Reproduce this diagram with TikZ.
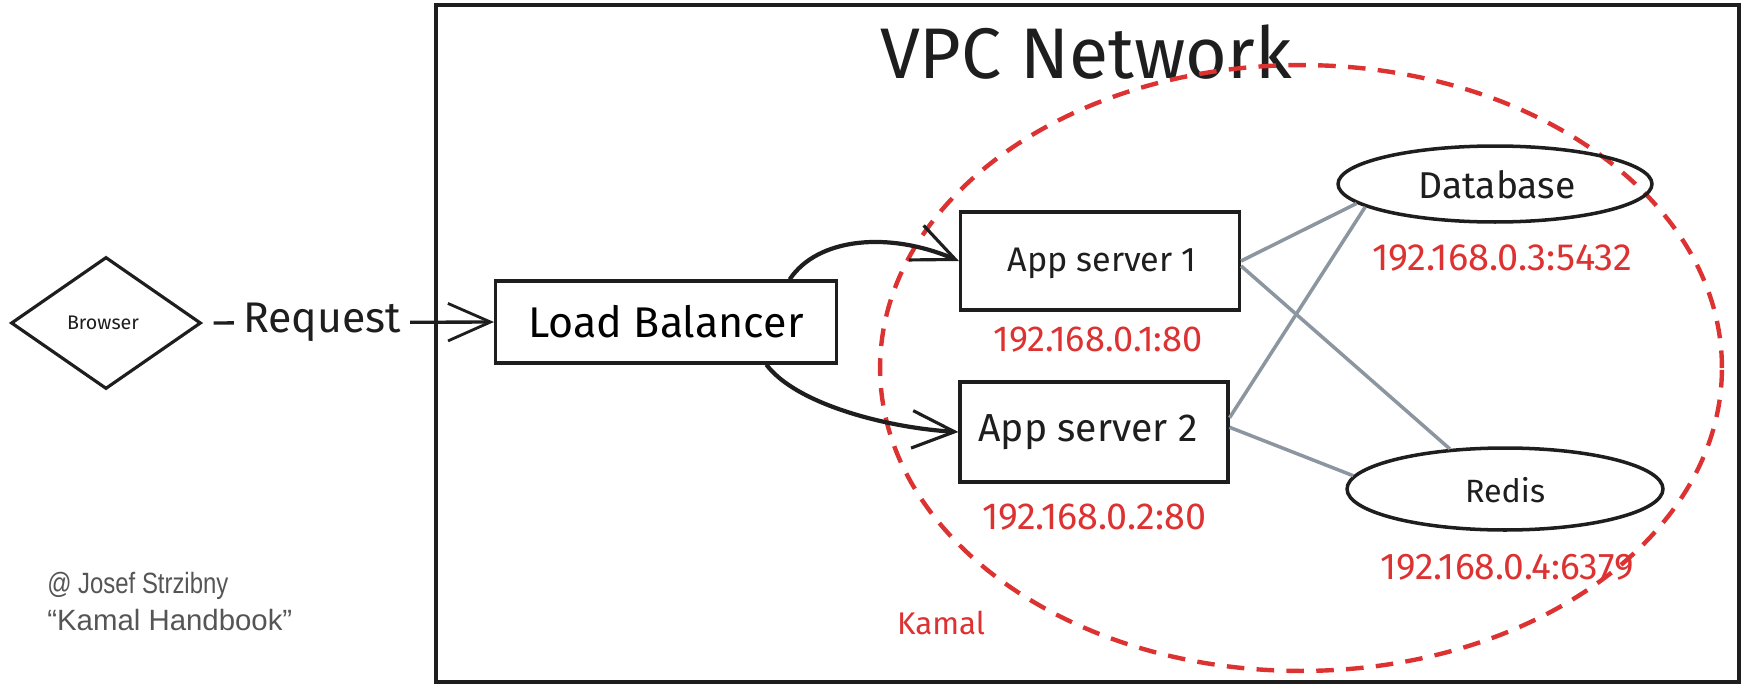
\documentclass[tikz,border=0pt]{standalone}
\usepackage{fontspec}
\usepackage{graphicx}
\setmainfont{Fira Sans}
\newfontfamily\footfont{Liberation Sans}
\usetikzlibrary{shapes.geometric,arrows.meta,calc}
\definecolor{ink}{RGB}{30,30,30}
\definecolor{kred}{RGB}{220,50,50}
\definecolor{wire}{RGB}{140,150,160}
\definecolor{footgray}{RGB}{85,85,85}
\newcommand{\fitw}[2]{\resizebox{\dimexpr 0.02cm*#1\relax}{!}{#2}}
\newcommand{\fitwh}[2]{\resizebox{\dimexpr 0.02cm*#1\relax}{\height}{#2}}
\tikzset{
  sketchbox/.style={draw=ink, line width=1.8pt, rectangle, inner sep=0pt},
  sketchell/.style={draw=ink, line width=2pt, ellipse, inner sep=0pt},
  redlabel/.style={text=kred, inner sep=0pt},
  blacklabel/.style={text=ink, inner sep=0pt},
  flow/.style={draw=ink, line width=1.9pt, -{Straight Barb[length=0.85cm, width=0.75cm, line width=1.6pt]}},
  boldflow/.style={draw=ink, line width=2.4pt, -{Straight Barb[length=0.85cm, width=0.75cm, line width=1.8pt]}},
  wireline/.style={draw=wire, line width=2pt},
  zone/.style={draw=kred, line width=2.5pt, dash pattern=on 10pt off 7pt, ellipse, inner sep=0pt},
  foottext/.style={text=footgray, inner sep=0pt, anchor=west, font=\footfont\fontsize{16.7pt}{20pt}\selectfont}
}
\begin{document}
\begin{tikzpicture}[x=0.02cm,y=-0.02cm]
\useasboundingbox (0,0) rectangle (1746,686);
% VPC container
\node[draw=ink, line width=2.2pt, rectangle, minimum width=26.06cm, minimum height=13.54cm, inner sep=0pt] (vpc) at (1087.5,343.5) {};
\node[blacklabel] (vpctitle) at (1086,52) {\fitw{412}{VPC Network}};
% Kamal zone
\node[zone, minimum width=16.84cm, minimum height=12.12cm] (zonek) at (1301,368) {};
\node[redlabel] (kamal) at (941,623) {\fitw{88}{Kamal}};
% nodes
\node[draw=ink, line width=1.8pt, diamond, minimum width=3.8cm, minimum height=2.64cm, inner sep=0pt] (browser) at (106,323) {};
\node[blacklabel] (browsertxt) at (103,323) {\fitw{72}{Browser}};
\node[sketchbox, minimum width=6.82cm, minimum height=1.64cm] (lb) at (666,322) {\fitw{275}{Load Balancer}};
\node[sketchbox, minimum width=5.58cm, minimum height=1.96cm] (app1) at (1100,261) {};
\node[blacklabel] (app1txt) at (1102,263) {\fitw{189}{App server 1}};
\node[sketchbox, minimum width=5.36cm, minimum height=2cm] (app2) at (1094,432) {};
\node[blacklabel] (app2txt) at (1088,432) {\fitw{219}{App server 2}};
\node[sketchell, minimum width=6.28cm, minimum height=1.52cm] (db) at (1495,184) {};
\node[blacklabel] (dbtxt) at (1497,185) {\fitw{157}{Database}};
\node[sketchell, minimum width=6.32cm, minimum height=1.64cm] (redis) at (1505,489) {};
\node[blacklabel] (redistxt) at (1505,490) {\fitw{80}{Redis}};
% addresses
\node[redlabel] (ip1) at (1098,340) {\fitw{209}{192.168.0.1:80}};
\node[redlabel] (ip2) at (1094,517) {\fitw{224}{192.168.0.2:80}};
\node[redlabel] (ip3) at (1502,258) {\fitw{260}{192.168.0.3:5432}};
\node[redlabel] (ip4) at (1507,567) {\fitw{253}{192.168.0.4:6379}};
% footer
\node[foottext] (foot1) at (47,586) {\fitwh{181}{@ Josef Strzibny}};
\node[foottext] (foot2) at (47,620) {\fitwh{245}{“Kamal Handbook”}};
% wires
\draw[wireline] (app1.east) -- (db.188);
\draw[wireline] (app1.-2) -- (redis.144);
\draw[wireline] (app2.6) -- (db.190);
\draw[wireline] (app2.2) -- (redis.175);
% flows
\draw[flow, shorten <=0.22cm] (browser.east) -- node[pos=0.41, fill=white, inner xsep=0.18cm, inner ysep=0pt, text=ink] (req) {\fitw{158}{Request}} (lb.west);
\draw[boldflow] (lb.19) .. controls +(28,-42) and +(-70,-30) .. (app1.west);
\draw[boldflow] (lb.-23) .. controls +(30,40) and +(-70,-4) .. (app2.west);
\end{tikzpicture}
\end{document}
